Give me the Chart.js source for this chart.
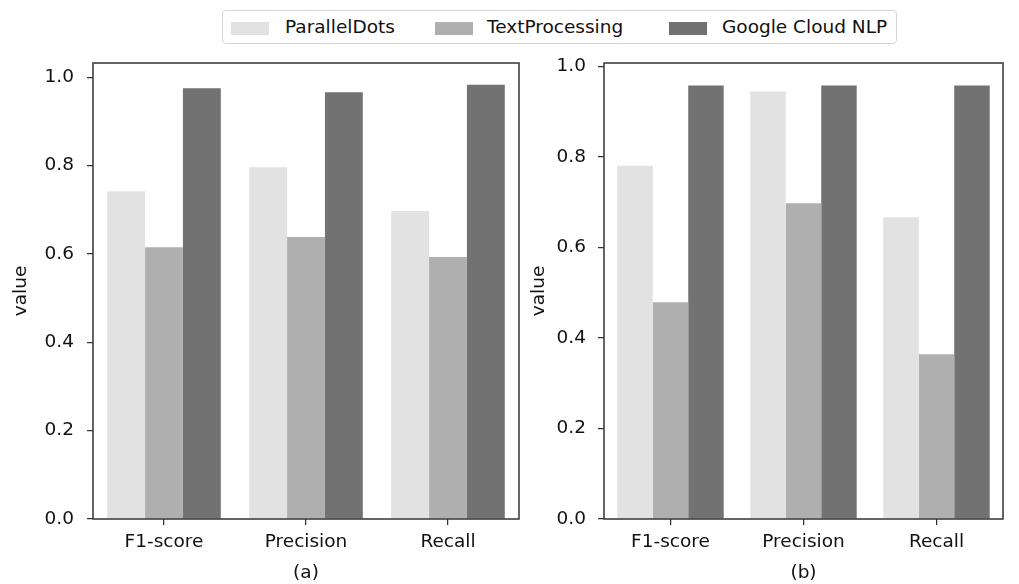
<!DOCTYPE html>
<html>
<head>
<meta charset="utf-8">
<script src="https://cdn.jsdelivr.net/npm/chart.js@4.4.1/dist/chart.umd.min.js"></script>
<style>
  body { margin: 0; background: #fff; }
  #wrap { position: relative; width: 1019px; height: 584px; font-family: 'DejaVu Sans', sans-serif; }
  #chartA { position: absolute; left: 0; top: 0; }
  #chartB { position: absolute; left: 525px; top: 0; }
  .legend { position: absolute; left: 222px; top: 10px; width: 675px; height: 34px; box-sizing: border-box;
            border: 1px solid #d4d4d4; border-radius: 4px; background: #fff; }
  .sw { position: absolute; top: 11px; width: 38px; height: 13px; }
  .lt { position: absolute; top: 5px; font-size: 18.5px; line-height: 22px; color: #111; white-space: nowrap; }
</style>
</head>
<body>
<div id="wrap">
  <canvas id="chartA" width="525" height="584"></canvas>
  <canvas id="chartB" width="494" height="584"></canvas>
  <div class="legend" id="legend"></div>
</div>
<script>
    const categories = ['F1-score', 'Precision', 'Recall'];
    const seriesNames = ['ParallelDots', 'TextProcessing', 'Google Cloud NLP'];
    const seriesColors = ['#e2e2e2', '#aeafae', '#727272'];

    // (a)
    const parallelDotsA = [0.742, 0.796, 0.697];
    const textProcessingA = [0.615, 0.638, 0.593];
    const googleNlpA = [0.975, 0.966, 0.983];

    // (b)
    const parallelDotsB = [0.781, 0.945, 0.667];
    const textProcessingB = [0.479, 0.698, 0.364];
    const googleNlpB = [0.958, 0.958, 0.958];

    const yTicks = [0, 0.2, 0.4, 0.6, 0.8, 1.0];

    Chart.defaults.font.family = "'DejaVu Sans', sans-serif";
    Chart.defaults.font.size = 18.5;
    Chart.defaults.color = '#111';

    // cadre autour de la zone de tracé (comme matplotlib)
    const framePlugin = {
        id: 'frame',
        afterDatasetsDraw(chart) {
            const a = chart.chartArea;
            const ctx = chart.ctx;
            ctx.save();
            ctx.strokeStyle = '#333';
            ctx.lineWidth = 1.5;
            ctx.strokeRect(a.left, a.top, a.right - a.left, a.bottom - a.top);
            ctx.restore();
        }
    };

    function makeChart(id, sets, yMax, yWidth, rightPad, titlePad, tickPad, label) {
        const ctx = document.getElementById(id).getContext('2d');
        return new Chart(ctx, {
            type: 'bar',
            data: {
                labels: categories,
                datasets: sets.map((d, i) => ({
                    label: seriesNames[i],
                    data: d,
                    backgroundColor: seriesColors[i],
                    borderWidth: 0,
                    categoryPercentage: 0.8,
                    barPercentage: 1.0
                }))
            },
            options: {
                responsive: false,
                animation: false,
                layout: { padding: { top: 63, right: rightPad, bottom: 0, left: 0 } },
                plugins: { legend: { display: false }, tooltip: { enabled: false } },
                scales: {
                    x: {
                        grid: { display: true, offset: false, drawOnChartArea: false, tickLength: 6, color: '#333', lineWidth: 1.25 },
                        border: { display: false },
                        ticks: { padding: 6, color: '#111' },
                        title: { display: true, text: label, padding: { top: 0, bottom: 0 }, color: '#111' },
                        afterFit(scale) { scale.height = 65; }
                    },
                    y: {
                        min: 0,
                        max: yMax,
                        afterBuildTicks(scale) { scale.ticks = yTicks.map(v => ({ value: v })); },
                        grid: { display: true, drawOnChartArea: false, tickLength: 6, color: '#333', lineWidth: 1.25 },
                        border: { display: false },
                        ticks: { padding: tickPad, color: '#111', callback: v => v.toFixed(1) },
                        title: { display: true, text: 'value', padding: { top: titlePad, bottom: 0 }, color: '#111' },
                        afterFit(scale) { scale.width = yWidth; }
                    }
                }
            },
            plugins: [framePlugin]
        });
    }

    makeChart('chartA', [parallelDotsA, textProcessingA, googleNlpA], 1.032, 93, 6, 10, 13, '(a)');
    makeChart('chartB', [parallelDotsB, textProcessingB, googleNlpB], 1.008, 79, 16, 3.5, 12, '(b)');

    // légende commune
    const legend = document.getElementById('legend');
    const swatchX = [8, 212, 446];
    const textX = [62, 264, 499];
    seriesNames.forEach((name, i) => {
        const sw = document.createElement('div');
        sw.className = 'sw';
        sw.style.left = swatchX[i] + 'px';
        sw.style.background = seriesColors[i];
        legend.appendChild(sw);
        const t = document.createElement('div');
        t.className = 'lt';
        t.style.left = textX[i] + 'px';
        t.textContent = name;
        legend.appendChild(t);
    });
</script>
</body>
</html>
